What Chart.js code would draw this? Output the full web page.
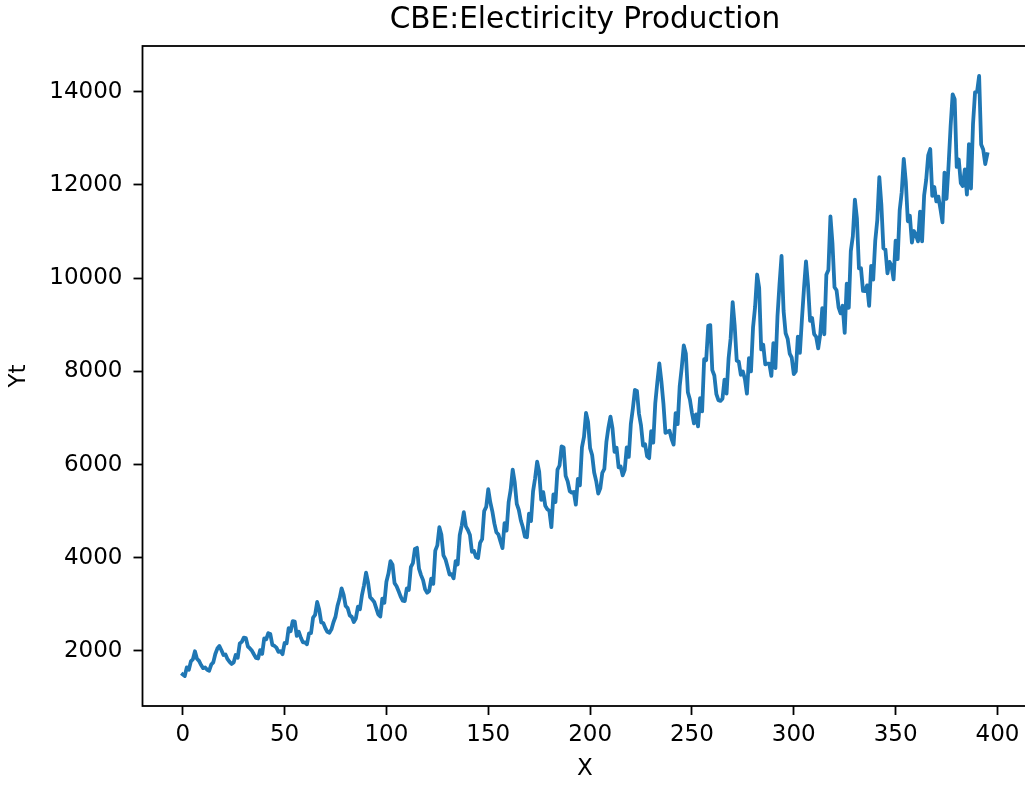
<!DOCTYPE html>
<html>
<head>
<meta charset="utf-8">
<script src="https://cdn.jsdelivr.net/npm/chart.js@4/dist/chart.umd.min.js"></script>
<style>
  html, body { margin: 0; padding: 0; overflow: hidden; background: #ffffff; }
  #wrap { position: absolute; left: 0; top: 0; width: 1040px; height: 785px; }
</style>
</head>
<body>
<div id="wrap"><canvas id="c" width="1040" height="785"></canvas></div>
<script>
// ---- data ----
const chartTitle = "CBE:Electiricity Production";
const xLabel = "X";
const yLabel = "Yt";
const xTicks = [0, 50, 100, 150, 200, 250, 300, 350, 400];
const yTicks = [2000, 4000, 6000, 8000, 10000, 12000, 14000];
const production = [
  1497, 1463, 1648, 1595, 1777, 1824, 1994, 1835, 1787, 1699, 1633, 1645,
  1597, 1577, 1709, 1756, 1936, 2052, 2105, 2016, 1914, 1925, 1824, 1765,
  1721, 1752, 1914, 1857, 2159, 2195, 2287, 2276, 2096, 2055, 2004, 1924,
  1851, 1839, 2019, 1937, 2270, 2251, 2382, 2364, 2129, 2110, 2072, 1980,
  1995, 1932, 2171, 2162, 2489, 2424, 2641, 2630, 2324, 2412, 2284, 2186,
  2184, 2144, 2379, 2383, 2717, 2774, 3051, 2891, 2613, 2600, 2493, 2410,
  2390, 2463, 2616, 2734, 2970, 3125, 3342, 3207, 2964, 2919, 2764, 2732,
  2622, 2698, 2950, 2895, 3200, 3408, 3679, 3473, 3154, 3107, 3052, 2918,
  2786, 2739, 3125, 3033, 3486, 3661, 3927, 3851, 3456, 3390, 3280, 3166,
  3080, 3069, 3340, 3310, 3798, 3883, 4191, 4213, 3766, 3628, 3520, 3322,
  3250, 3287, 3552, 3440, 4153, 4265, 4655, 4492, 4051, 3967, 3807, 3639,
  3647, 3560, 3929, 3858, 4485, 4697, 4977, 4675, 4596, 4491, 4127, 4144,
  4014, 3994, 4320, 4400, 5002, 5091, 5471, 5193, 4997, 4737, 4546, 4498,
  4350, 4206, 4743, 4582, 5191, 5457, 5891, 5618, 5158, 5030, 4800, 4654,
  4453, 4440, 4945, 4788, 5425, 5706, 6061, 5846, 5242, 5408, 5114, 5042,
  5008, 4657, 5359, 5193, 5891, 5980, 6390, 6366, 5756, 5640, 5429, 5398,
  5413, 5141, 5695, 5554, 6369, 6592, 7107, 6917, 6353, 6205, 5830, 5646,
  5379, 5489, 5824, 5907, 6482, 6795, 7028, 6776, 6274, 6362, 5940, 5958,
  5769, 5887, 6367, 6165, 6868, 7201, 7601, 7581, 7090, 6841, 6408, 6435,
  6176, 6138, 6717, 6470, 7312, 7763, 8171, 7788, 7311, 6679, 6704, 6724,
  6552, 6427, 7105, 6869, 7683, 8082, 8555, 8386, 7553, 7398, 7112, 6886,
  7077, 6820, 7426, 7143, 8261, 8240, 8977, 8991, 8026, 7911, 7510, 7381,
  7366, 7414, 7824, 7524, 8279, 8707, 9486, 8973, 8231, 8206, 7927, 7999,
  7834, 7521, 8284, 7999, 8940, 9381, 10078, 9796, 8471, 8572, 8150, 8168,
  8166, 7903, 8606, 8071, 9178, 9873, 10476, 9296, 8818, 8697, 8381, 8293,
  7942, 8001, 8744, 8397, 9115, 9773, 10358, 9849, 9083, 9143, 8800, 8741,
  8492, 8795, 9354, 8796, 10072, 10174, 11326, 10744, 9806, 9740, 9373, 9244,
  9407, 8827, 9880, 9364, 10580, 10899, 11687, 11280, 10208, 10212, 9725, 9721,
  9846, 9407, 10265, 9970, 10801, 11246, 12167, 11578, 10645, 10613, 10104, 10348,
  10263, 9973, 10803, 10409, 11458, 11845, 12559, 12070, 11221, 11338, 10761, 11012,
  10923, 10790, 11427, 10788, 11772, 12104, 12634, 12772, 11764, 11956, 11646, 11750,
  11485, 11198, 12265, 11704, 12419, 13259, 13945, 13839, 12387, 12546, 12038, 11977,
  12336, 11793, 12877, 11923, 13306, 13988, 14002, 14338, 12867, 12761, 12449, 12658
];

// ---- build chart ----
const points = production.map((v, i) => ({ x: i, y: v }));
const n = production.length;
const xMargin = (n - 1) * 0.05;
const yMin = Math.min(...production), yMax = Math.max(...production);
const yMargin = (yMax - yMin) * 0.05;

const FONT = "'DejaVu Sans', 'Liberation Sans', sans-serif";

const frame = {
  id: 'frame',
  afterDatasetsDraw(chart) {
    const { ctx, chartArea: a } = chart;
    ctx.save();
    ctx.strokeStyle = '#000000';
    ctx.lineWidth = 1.8;
    ctx.strokeRect(a.left, a.top, a.right - a.left, a.bottom - a.top);
    ctx.restore();
  }
};

new Chart(document.getElementById('c'), {
  type: 'line',
  data: {
    datasets: [{
      data: points,
      borderColor: '#1f77b4',
      borderWidth: 3.8,
      pointRadius: 0,
      pointHoverRadius: 0,
      tension: 0,
      fill: false,
      borderJoinStyle: 'round',
      borderCapStyle: 'square'
    }]
  },
  options: {
    responsive: false,
    animation: false,
    events: [],
    layout: { padding: { left: 0, right: 12.5, top: 0, bottom: 0 } },
    plugins: {
      legend: { display: false },
      tooltip: { enabled: false },
      title: {
        display: true,
        fullSize: false,
        text: chartTitle,
        color: '#000000',
        font: { family: FONT, size: 29.5, weight: 'normal' },
        padding: { top: 3, bottom: 7.6 }
      }
    },
    scales: {
      x: {
        type: 'linear',
        min: -xMargin,
        max: (n - 1) + xMargin,
        afterBuildTicks(scale) { scale.ticks = xTicks.map(v => ({ value: v })); },
        afterFit(scale) { scale.height = 79; },
        grid: { display: true, drawOnChartArea: false, drawTicks: true, tickLength: 9, tickWidth: 1.8, tickColor: '#000000', color: '#000000' },
        border: { display: false },
        ticks: { color: '#000000', font: { family: FONT, size: 23 }, padding: 6, maxRotation: 0, autoSkip: false, callback: v => String(v) },
        title: { display: true, text: xLabel, color: '#000000', font: { family: FONT, size: 23 }, padding: { top: 0, bottom: 2 } }
      },
      y: {
        type: 'linear',
        min: yMin - yMargin,
        max: yMax + yMargin,
        afterBuildTicks(scale) { scale.ticks = yTicks.map(v => ({ value: v })); },
        afterFit(scale) { scale.width = 142.5; },
        grid: { display: true, drawOnChartArea: false, drawTicks: true, tickLength: 9, tickWidth: 1.8, tickColor: '#000000', color: '#000000' },
        border: { display: false },
        ticks: { color: '#000000', font: { family: FONT, size: 23 }, padding: 11, autoSkip: false, callback: v => String(v) },
        title: { display: true, text: yLabel, color: '#000000', font: { family: FONT, size: 23 }, padding: { top: 5, bottom: 0 } }
      }
    }
  },
  plugins: [frame]
});
</script>
</body>
</html>
